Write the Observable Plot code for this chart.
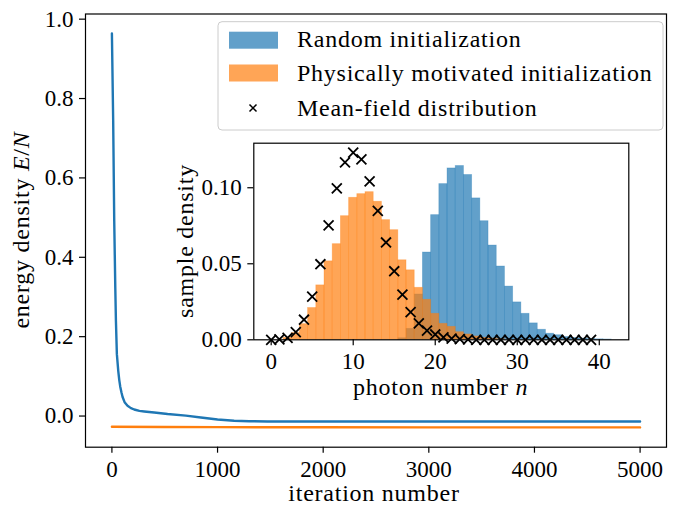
<!DOCTYPE html>
<html>
<head>
<meta charset="utf-8">
<script src="https://cdn.jsdelivr.net/npm/d3@7"></script>
<script src="https://cdn.jsdelivr.net/npm/@observablehq/plot@0.6"></script>
<style>
  html, body { margin: 0; padding: 0; background: white; }
  #chart { position: relative; width: 676px; height: 506px; }
</style>
</head>
<body>
<div id="chart"></div>
<script>
// ---------- Main plot data: energy density vs iteration ----------
const randomIter = [0, 12, 22, 32, 38, 47, 60, 70, 79, 90, 101, 120, 148, 180, 211, 260, 306, 400, 527, 700, 842, 1000, 1157, 1300, 1473, 1700, 2000, 3000, 4000, 5000];
const randomEnergy = [0.964, 0.744, 0.492, 0.324, 0.240, 0.156, 0.114, 0.090, 0.074, 0.060, 0.048, 0.035, 0.026, 0.020, 0.0165, 0.013, 0.0116, 0.009, 0.005, 0.001, -0.0035, -0.0088, -0.0118, -0.013, -0.0136, -0.0138, -0.0138, -0.0138, -0.0137, -0.0137];
const physIter = [0, 500, 1000, 2000, 3000, 4000, 5000];
const physEnergy = [-0.0268, -0.0275, -0.028, -0.0283, -0.0285, -0.0286, -0.0286];

// ---------- Inset data: photon number histograms ----------
const photonN = d3.range(0, 42);
const randomDensity = [0,0,0,0,0,0,0,0,0,0,0,0,0,0,0,0, 0.001, 0.0072, 0.0298, 0.0574, 0.082, 0.1024, 0.1127, 0.1143, 0.1084, 0.093, 0.078, 0.062, 0.0482, 0.035, 0.0246, 0.0171, 0.0108, 0.0066, 0.004, 0.003, 0.0018, 0.0012, 0.0008, 0.0005, 0.0003, 0.0002];
const physDensity = [0, 0, 0.0013, 0.0044, 0.0103, 0.0209, 0.0358, 0.0516, 0.0629, 0.0813, 0.0934, 0.0958, 0.0971, 0.0908, 0.0787, 0.0721, 0.0523, 0.0457, 0.0342, 0.0263, 0.0171, 0.0105, 0.0085, 0.005, 0.0035, 0.0022, 0.0013, 0.0008, 0.0004, 0,0,0,0,0,0,0,0,0,0,0,0,0];
const meanFieldN = d3.range(0, 40);
const meanFieldDensity = [0, 0.0003, 0.0013, 0.005, 0.0132, 0.0284, 0.0497, 0.0752, 0.0996, 0.1167, 0.1231, 0.1187, 0.1042, 0.0848, 0.064, 0.0451, 0.0297, 0.0182, 0.0108, 0.006, 0.0035, 0.0016, 0.0008, 0.0004, 0.0002, 0,0,0,0,0,0,0,0,0,0,0,0,0,0,0];

// ---------- Tick labels ----------
const mainXTicks = [0, 1000, 2000, 3000, 4000, 5000];
const mainYTicks = [0, 0.2, 0.4, 0.6, 0.8, 1.0];
const insetXTicks = [0, 10, 20, 30, 40];
const insetYTicks = [0, 0.05, 0.10];

// ---------- Legend ----------
const legendLabels = ["Random initialization", "Physically motivated initialization", "Mean-field distribution"];

const FONT = "'Liberation Serif', 'Times New Roman', serif";
const FS = 23;       // tick labels
const LFS = 24;      // axis labels & legend
const LS = "0.75px"; // letter spacing for labels (Computer Modern is wider)
const blue = "#1f77b4", orange = "#ff7f0e";

const randomLine = randomIter.map((x, i) => ({x, y: randomEnergy[i]}));
const physLine = physIter.map((x, i) => ({x, y: physEnergy[i]}));

const main = Plot.plot({
  width: 676, height: 506,
  marginLeft: 85, marginRight: 10, marginTop: 13.5, marginBottom: 59.3,
  style: {fontFamily: FONT, fontSize: FS + "px", color: "black", background: "white", overflow: "visible"},
  x: {domain: [-250, 5250]},
  y: {domain: [-0.0785, 1.013]},
  marks: [
    Plot.line(randomLine, {x: "x", y: "y", stroke: blue, strokeWidth: 2.4}),
    Plot.line(physLine, {x: "x", y: "y", stroke: orange, strokeWidth: 2.4}),
    Plot.frame({stroke: "black", strokeWidth: 1.2}),
    Plot.axisX(mainXTicks, {tickSize: 6, tickPadding: 7, tickFormat: d3.format("d"), label: null, strokeWidth: 1.2}),
    Plot.axisY(mainYTicks, {tickSize: 6, tickPadding: 6, tickFormat: d => d.toFixed(1), label: null, strokeWidth: 1.2})
  ]
});

// inset svg covers x 160..650, y 130..405
const IX = 160, IY = 130, IW = 490, IH = 275;
const inset = Plot.plot({
  width: IW, height: IH,
  marginLeft: 253.3 - IX, marginRight: IX + IW - 628.3, marginTop: 142.7 - IY, marginBottom: IY + IH - 339.3,
  style: {fontFamily: FONT, fontSize: FS + "px", color: "black", background: "none", overflow: "visible"},
  x: {domain: [-2.12, 43.6]},
  y: {domain: [0, 0.1293]},
  marks: [
    Plot.frame({fill: "white"}),
    Plot.rect(photonN, {x1: d => d - 0.5, x2: d => d + 0.5, y1: 0, y2: (d, i) => randomDensity[i],
      fill: blue, fillOpacity: 0.7, stroke: blue, strokeOpacity: 0.35, strokeWidth: 0.8}),
    Plot.rect(photonN, {x1: d => d - 0.5, x2: d => d + 0.5, y1: 0, y2: (d, i) => physDensity[i],
      fill: orange, fillOpacity: 0.7, stroke: orange, strokeOpacity: 0.35, strokeWidth: 0.8}),
    Plot.dot(meanFieldN, {x: d => d, y: (d, i) => meanFieldDensity[i], symbol: "times", r: 4.6, stroke: "black", strokeWidth: 1.8}),
    Plot.frame({stroke: "black", strokeWidth: 1.2}),
    Plot.axisX(insetXTicks, {tickSize: 6, tickPadding: 7, tickFormat: d3.format("d"), label: null, strokeWidth: 1.2}),
    Plot.axisY(insetYTicks, {tickSize: 6, tickPadding: 6, tickFormat: d => d.toFixed(2), label: null, strokeWidth: 1.2})
  ]
});
inset.setAttribute("x", IX);
inset.setAttribute("y", IY);
inset.style.width = IW + "px";
inset.style.height = IH + "px";
inset.style.maxWidth = "none";
main.appendChild(inset);

const svg = d3.select(main);
function label(sel) {
  return sel.style("font-family", FONT).style("font-size", LFS + "px")
    .style("letter-spacing", LS).attr("fill", "black");
}

// axis labels
const yl = label(svg.append("text")
  .attr("transform", "translate(29,230) rotate(-90)")
  .attr("text-anchor", "middle"));
yl.append("tspan").text("energy density ");
yl.append("tspan").attr("font-style", "italic").text("E");
yl.append("tspan").text("/");
yl.append("tspan").attr("font-style", "italic").text("N");

label(svg.append("text")
  .attr("x", 374).attr("y", 501)
  .attr("text-anchor", "middle"))
  .text("iteration number");

label(svg.append("text")
  .attr("transform", "translate(193,241) rotate(-90)")
  .attr("text-anchor", "middle"))
  .text("sample density");

const xl = label(svg.append("text")
  .attr("x", 440.7).attr("y", 395)
  .attr("text-anchor", "middle"));
xl.append("tspan").text("photon number ");
xl.append("tspan").attr("font-style", "italic").text("n");

// legend
const lg = svg.append("g");
lg.append("rect").attr("x", 218).attr("y", 21.7).attr("width", 445).attr("height", 108.3)
  .attr("rx", 4).attr("fill", "white").attr("fill-opacity", 0.8)
  .attr("stroke", "#cccccc").attr("stroke-width", 1);
lg.append("rect").attr("x", 229).attr("y", 31.7).attr("width", 49).attr("height", 17)
  .attr("fill", blue).attr("fill-opacity", 0.7);
lg.append("rect").attr("x", 229).attr("y", 64.5).attr("width", 49).attr("height", 17)
  .attr("fill", orange).attr("fill-opacity", 0.7);
lg.append("path").attr("d", "M249.5,104.5L256.5,111.5M249.5,111.5L256.5,104.5")
  .attr("stroke", "black").attr("stroke-width", 1.5).attr("fill", "none");
const baselines = [47.3, 81, 116];
legendLabels.forEach((t, i) => {
  label(lg.append("text").attr("x", 297).attr("y", baselines[i]).attr("text-anchor", "start"))
    .text(t);
});

document.getElementById("chart").appendChild(main);
</script>
</body>
</html>
